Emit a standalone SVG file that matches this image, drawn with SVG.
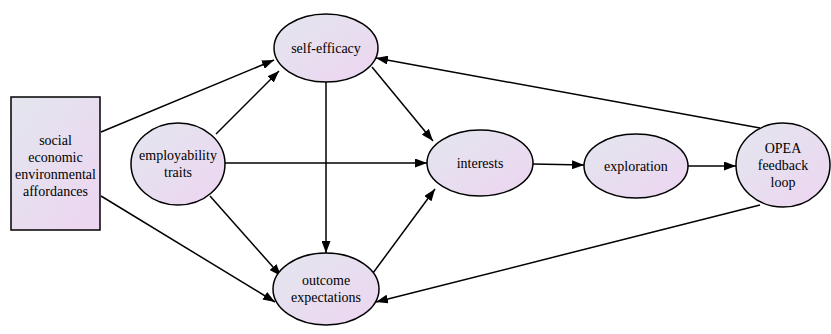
<svg xmlns="http://www.w3.org/2000/svg" width="831" height="334" viewBox="0 0 831 334">
<defs>
<linearGradient id="g" x1="0" y1="0" x2="1" y2="1">
<stop offset="0" stop-color="#e3e6ee"/>
<stop offset="1" stop-color="#edd5f1"/>
</linearGradient>
<marker id="ah" markerWidth="12" markerHeight="9" refX="12" refY="4.5" orient="auto" markerUnits="userSpaceOnUse">
<path d="M0,0 L12,4.5 L0,9 z" fill="#000"/>
</marker>
</defs>
<style>
.n{fill:url(#g);stroke:#000;stroke-width:1.5}
.t{font-family:"Liberation Serif","Times New Roman",serif;font-size:14px;fill:#000;text-anchor:middle}
.e{stroke:#000;stroke-width:1.5;fill:none;marker-end:url(#ah)}
</style>
<rect width="831" height="334" fill="#fff"/>
<g id="edges">
<line class="e" x1="101" y1="132" x2="274" y2="60"/>
<line class="e" x1="101" y1="196" x2="275" y2="302"/>
<line class="e" x1="216" y1="134" x2="279" y2="71"/>
<line class="e" x1="225" y1="163" x2="427" y2="163"/>
<line class="e" x1="210" y1="196" x2="281" y2="276"/>
<line class="e" x1="372" y1="67" x2="433" y2="141"/>
<line class="e" x1="326" y1="82" x2="326" y2="253"/>
<line class="e" x1="373" y1="273" x2="435" y2="189"/>
<line class="e" x1="533" y1="164" x2="584" y2="165"/>
<line class="e" x1="688" y1="166" x2="736" y2="166"/>
<line class="e" x1="760" y1="128" x2="376" y2="58"/>
<line class="e" x1="760" y1="205" x2="376" y2="302"/>
</g>
<g id="affordances">
<rect class="n" x="11" y="97" width="89" height="133"/>
<text class="t" x="55.5" y="145">social</text>
<text class="t" x="55.5" y="162">economic</text>
<text class="t" x="55.5" y="179">environmental</text>
<text class="t" x="55.5" y="196">affordances</text>
</g>
<g id="self-efficacy">
<ellipse class="n" cx="326" cy="48" rx="52" ry="34"/>
<text class="t" x="326" y="53">self-efficacy</text>
</g>
<g id="employability">
<ellipse class="n" cx="178" cy="164" rx="47" ry="41"/>
<text class="t" x="178" y="160">employability</text>
<text class="t" x="178" y="177">traits</text>
</g>
<g id="interests">
<ellipse class="n" cx="480" cy="163" rx="53" ry="33"/>
<text class="t" x="480" y="168">interests</text>
</g>
<g id="exploration">
<ellipse class="n" cx="636" cy="166" rx="52" ry="32"/>
<text class="t" x="636" y="171">exploration</text>
</g>
<g id="opea">
<ellipse class="n" cx="783" cy="165" rx="47" ry="42"/>
<text class="t" x="783" y="153">OPEA</text>
<text class="t" x="783" y="170">feedback</text>
<text class="t" x="783" y="187">loop</text>
</g>
<g id="outcome">
<ellipse class="n" cx="326" cy="289" rx="53" ry="36"/>
<text class="t" x="326" y="285">outcome</text>
<text class="t" x="326" y="302">expectations</text>
</g>
</svg>
